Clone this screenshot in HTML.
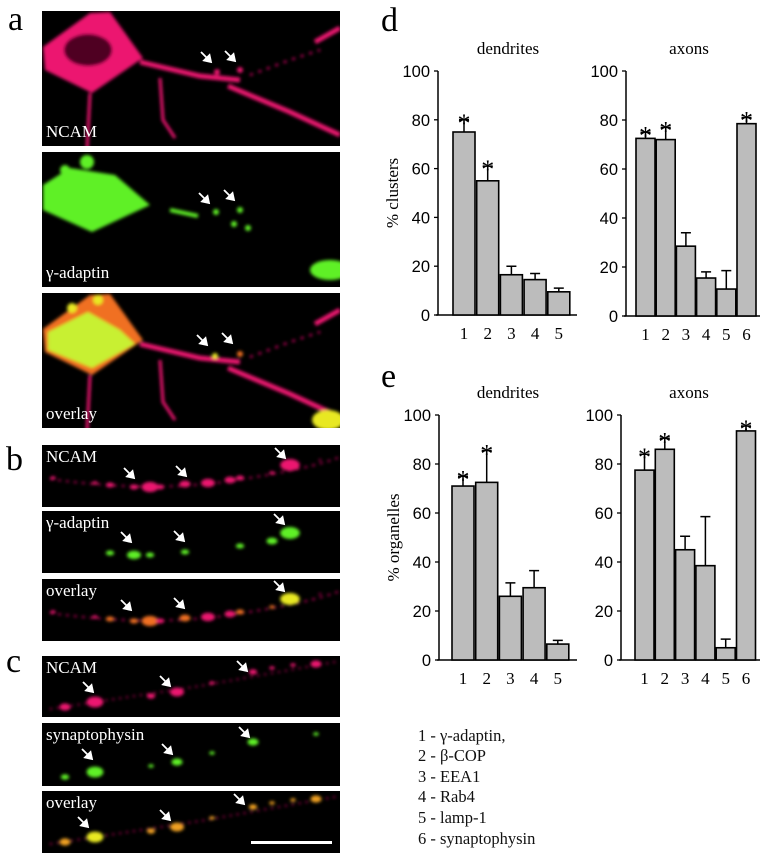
<!DOCTYPE html>
<html><head><meta charset="utf-8"><style>
html,body{margin:0;padding:0;background:#fff;}
svg{display:block;}
.serif{font-family:"Liberation Serif",serif;}
.sans{font-family:"Liberation Sans",sans-serif;}
</style></head><body>
<svg id="fig" width="772" height="853" viewBox="0 0 772 853" xmlns="http://www.w3.org/2000/svg">
<defs>
<filter id="bl" x="-20%" y="-20%" width="140%" height="140%"><feGaussianBlur stdDeviation="1.6"/></filter>
</defs>

<text x="8" y="30" class="serif" font-size="34">a</text>
<text x="6" y="470" class="serif" font-size="34">b</text>
<text x="6" y="672" class="serif" font-size="34">c</text>
<text x="381" y="31" class="serif" font-size="34">d</text>
<text x="381" y="387" class="serif" font-size="34">e</text>

<g id="micro"></g>

<g id="charts"></g>

<g class="serif" font-size="16.5" fill="#111">
<text x="418" y="741">1 - γ-adaptin,</text>
<text x="418" y="761">2 - β-COP</text>
<text x="418" y="782">3 - EEA1</text>
<text x="418" y="802">4 - Rab4</text>
<text x="418" y="823">5 - lamp-1</text>
<text x="418" y="844">6 - synaptophysin</text>
</g>
</svg>
<script>
// ---- chart data ----
var dDendCats = ["1","2","3","4","5"];
var dDendVals = [75, 55, 16.5, 14.5, 9.5];
var dDendErr  = [5, 6, 3.5, 2.5, 1.5];
var dDendSig  = [1, 1, 0, 0, 0];
var dAxCats = ["1","2","3","4","5","6"];
var dAxVals = [72.5, 72, 28.5, 15.5, 11, 78.5];
var dAxErr  = [2.5, 5, 5.5, 2.5, 7.5, 2.5];
var dAxSig  = [1, 1, 0, 0, 0, 1];
var eDendCats = ["1","2","3","4","5"];
var eDendVals = [71, 72.5, 26, 29.5, 6.5];
var eDendErr  = [4, 13, 5.5, 7, 1.5];
var eDendSig  = [1, 1, 0, 0, 0];
var eAxCats = ["1","2","3","4","5","6"];
var eAxVals = [77.5, 86, 45, 38.5, 5, 93.5];
var eAxErr  = [6.5, 4.5, 5.5, 20, 3.5, 2];
var eAxSig  = [1, 1, 0, 0, 0, 1];
var yTicks = [0, 20, 40, 60, 80, 100];

var NS = "http://www.w3.org/2000/svg";
function mk(tag, attrs, parent){
  var e = document.createElementNS(NS, tag);
  for (var k in attrs) e.setAttribute(k, attrs[k]);
  if (parent) parent.appendChild(e);
  return e;
}
var charts = document.getElementById("charts");

function drawChart(id, title, ylabel, cats, vals, errs, sig, L){
  var g = mk("g", {}, charts);
  
  
  function y(v){ return L.yBase - (L.yBase - L.yTop) * v / 100; }
  function x(i){ return L.x0 + i * L.step; }
  var t = mk("text", {x: L.titleX, y: y(100) - 17, "text-anchor": "middle", "class": "serif", "font-size": "17"}, g);
  t.textContent = title;
  
  
  if (ylabel){
    var yl = mk("text", {x: 0, y: 0, transform: "translate(" + (L.ax - 40) + "," + ((L.yTop + L.yBase) / 2) + ") rotate(-90)", "text-anchor": "middle", "class": "serif", "font-size": "17"}, g);
    yl.textContent = ylabel;
    
    
  }
  var axis = mk("path", {d: "M" + L.ax + "," + (y(100)) + "V" + L.yBase + "M" + (L.ax - 2) + "," + L.yBase + "H" + L.xEnd, stroke: "#000", "stroke-width": "1.5", fill: "none"}, g);
  
  
  yTicks.forEach(function(v){
    mk("line", {x1: L.ax - 4, x2: L.ax, y1: y(v), y2: y(v), stroke: "#000", "stroke-width": "1.3"}, g);
    var tl = mk("text", {x: L.ax - 8, y: y(v) + 6, "text-anchor": "end", "class": "sans", "font-size": "16.5"}, g);
    tl.textContent = String(v);
    
    
  });
  vals.forEach(function(v, i){
    var b = mk("rect", {x: x(i), y: y(v), width: L.w, height: L.yBase - y(v), fill: "#bcbcbc", stroke: "#000", "stroke-width": "1.6"}, g);
    
    
    var cx = x(i) + L.w / 2;
    var et = y(v + errs[i]);
    var eb = mk("path", {d: "M" + cx + "," + y(v) + "V" + et + "M" + (cx - 5) + "," + et + "H" + (cx + 5), stroke: "#000", "stroke-width": "1.5", fill: "none"}, g);
    
    
    if (sig[i]){
      var s = mk("text", {x: cx, y: et + 12, "text-anchor": "middle", "class": "serif", "font-size": "26"}, g);
      s.textContent = "*";
      
      
    }
    var xl = mk("text", {x: cx, y: L.yBase + 24, "text-anchor": "middle", "class": "serif", "font-size": "17"}, g);
    xl.textContent = cats[i];
    
    
  });
}
drawChart("chart-d-dendrites", "dendrites", "% clusters", dDendCats, dDendVals, dDendErr, dDendSig,
  {ax: 438, yTop: 71, yBase: 315, x0: 453, step: 23.7, w: 22, xEnd: 577, titleX: 508});
drawChart("chart-d-axons", "axons", null, dAxCats, dAxVals, dAxErr, dAxSig,
  {ax: 626, yTop: 71, yBase: 316, x0: 636, step: 20.2, w: 19, xEnd: 760, titleX: 689});
drawChart("chart-e-dendrites", "dendrites", "% organelles", eDendCats, eDendVals, eDendErr, eDendSig,
  {ax: 439, yTop: 415, yBase: 660, x0: 452, step: 23.7, w: 22, xEnd: 577, titleX: 508});
drawChart("chart-e-axons", "axons", null, eAxCats, eAxVals, eAxErr, eAxSig,
  {ax: 621, yTop: 415, yBase: 660, x0: 635, step: 20.3, w: 19, xEnd: 760, titleX: 689});

// ---- micrographs ----
var micro = document.getElementById("micro");
var RED = "#ec1470", GRN = "#5ef028", YEL = "#e8e820", ORG = "#f07020";
function panel(name, x, y, w, h, label){
  var g = mk("g", {}, micro);
  
  
  mk("rect", {x: x, y: y, width: w, height: h, fill: "#000"}, g);
  var cp = mk("clipPath", {id: "cp-" + name}, g);
  mk("rect", {x: x, y: y, width: w, height: h}, cp);
  var inner = mk("g", {"clip-path": "url(#cp-" + name + ")"}, g);
  var c = mk("g", {filter: "url(#bl)"}, inner);
  var lt = mk("text", {x: x + 4, y: label.y, fill: "#fff", "class": "serif", "font-size": "17"}, g);
  lt.textContent = label.t;
  
  
  return {g: g, c: c, top: inner};
}
function arrow(g, x, y){
  var a = mk("path", {d: "M" + (x - 10) + "," + (y - 10) + "L" + (x - 1) + "," + (y - 1) + "M" + x + "," + y + "l-7,-1.5 5.5,-5.5z", stroke: "#fff", "stroke-width": "1.8", fill: "#fff"}, g);
  
  
}
// panel a
var body = "M43,47 L90,13 L110,12 L143,58 L92,93 L45,70 Z";
function procs(c, col){
  mk("path", {d: "M140,62 L200,76 L240,80", stroke: col, "stroke-width": "5", fill: "none"}, c);
  mk("path", {d: "M228,86 L290,112 L340,135", stroke: col, "stroke-width": "5", fill: "none"}, c);
  mk("path", {d: "M315,42 L340,28", stroke: col, "stroke-width": "5", fill: "none"}, c);
  mk("path", {d: "M90,93 L87,150", stroke: col, "stroke-width": "3", fill: "none"}, c);
  mk("path", {d: "M160,78 L163,120 L175,138", stroke: col, "stroke-width": "3", fill: "none"}, c);
  mk("path", {d: "M250,75 L290,60 L320,50", stroke: col, "stroke-width": "2", fill: "none", "stroke-dasharray": "3 6"}, c);
}
var pa1 = panel("panel-a-ncam", 42, 11, 298, 135, {t: "NCAM", y: 137});
mk("path", {d: body, fill: RED}, pa1.c);
mk("ellipse", {cx: 88, cy: 50, rx: 24, ry: 16, fill: "#500020"}, pa1.c);
procs(pa1.c, RED);
mk("circle", {cx: 217, cy: 72, r: 3, fill: RED}, pa1.c);
mk("circle", {cx: 240, cy: 70, r: 3, fill: RED}, pa1.c);
arrow(pa1.g, 211, 62); arrow(pa1.g, 235, 61);

var pa2 = panel("panel-a-gamma-adaptin", 42, 152, 298, 135, {t: "γ-adaptin", y: 278});
mk("path", {d: "M43,185 L70,168 L115,175 L150,205 L92,232 L43,210 Z", fill: GRN}, pa2.c);
mk("circle", {cx: 87, cy: 162, r: 7, fill: GRN}, pa2.c);
mk("circle", {cx: 65, cy: 170, r: 5, fill: GRN}, pa2.c);
mk("path", {d: "M170,210 L198,216", stroke: GRN, "stroke-width": "4", fill: "none"}, pa2.c);
[[216,212],[240,210],[234,224],[248,228]].forEach(function(p){ mk("circle", {cx: p[0], cy: p[1], r: 3, fill: GRN}, pa2.c); });
mk("ellipse", {cx: 330, cy: 270, rx: 20, ry: 10, fill: GRN}, pa2.c);
arrow(pa2.g, 209, 203); arrow(pa2.g, 234, 200);

var pa3 = panel("panel-a-overlay", 42, 293, 298, 135, {t: "overlay", y: 419});
mk("path", {d: "M43,329 L90,295 L110,294 L143,340 L92,375 L45,352 Z", fill: ORG}, pa3.c);
mk("path", {d: "M48,332 L88,312 L120,330 L135,344 L92,368 L48,350 Z", fill: "#c8f030"}, pa3.c);
mk("circle", {cx: 72, cy: 308, r: 5, fill: YEL}, pa3.c);
mk("circle", {cx: 98, cy: 300, r: 5, fill: YEL}, pa3.c);
var g3 = mk("g", {transform: "translate(0,282)"}, pa3.c);
procs(g3, RED);
mk("circle", {cx: 215, cy: 356, r: 3, fill: YEL}, pa3.c);
mk("circle", {cx: 240, cy: 354, r: 3, fill: ORG}, pa3.c);
mk("ellipse", {cx: 328, cy: 420, rx: 16, ry: 10, fill: YEL}, pa3.c);
arrow(pa3.g, 207, 345); arrow(pa3.g, 232, 343);

// panel b: dots along a process (y relative to panel top)
var bDots = [[53,33],[95,38],[110,40],[134,42],[150,42],[160,42],[185,39],[208,38],[230,35],[240,33],[272,28],[290,20],[320,15]];
var bSizes = [2,2,3,3,6,3,4,5,4,3,2,7,1];
var bGreen = [0,0,3,5,3,0,3,0,0,3,4,7,0];
function bPanel(name, y0, label, mode){
  var p = panel(name, 42, y0, 298, 62, {t: label, y: y0 + 17});
  var gg = mk("g", {transform: "translate(0," + y0 + ")"}, p.c);
  if (mode !== "g") mk("path", {d: "M50,34 Q150,48 230,36 T340,12", stroke: RED, "stroke-width": "1.5", fill: "none", "stroke-dasharray": "3 5"}, gg);
  bDots.forEach(function(d, i){
    var r = mode === "g" ? bGreen[i] : bSizes[i];
    if (r <= 0) return;
    var col = mode === "r" ? RED : mode === "g" ? GRN : (bGreen[i] > 2 ? (bGreen[i] > 5 ? YEL : ORG) : RED);
    mk("ellipse", {cx: d[0], cy: d[1] + (mode === "g" ? 2 : 0), rx: r * 1.4, ry: r * 0.85, fill: col}, gg);
  });
  return p;
}
var pb1 = bPanel("panel-b-ncam", 445, "NCAM", "r");
arrow(pb1.g, 134, 478); arrow(pb1.g, 186, 476); arrow(pb1.g, 285, 458);
var pb2 = bPanel("panel-b-gamma-adaptin", 511, "γ-adaptin", "g");
arrow(pb2.g, 131, 542); arrow(pb2.g, 184, 541); arrow(pb2.g, 284, 524);
var pb3 = bPanel("panel-b-overlay", 579, "overlay", "o");
arrow(pb3.g, 131, 610); arrow(pb3.g, 184, 608); arrow(pb3.g, 284, 591);

// panel c
var cDots = [[65,51],[95,46],[151,40],[177,36],[212,27],[253,16],[272,12],[293,9],[316,8]];
var cR = [4,6,3,5,2,3,2,2,4];
var cG = [3,6,2,4,2,4,0,0,2];
function cPanel(name, y0, h, label, mode){
  var p = panel(name, 42, y0, 298, h, {t: label, y: y0 + 17});
  var gg = mk("g", {transform: "translate(0," + y0 + ")"}, p.c);
  if (mode !== "g") mk("path", {d: "M50,53 L200,30 L340,5", stroke: RED, "stroke-width": "1.5", fill: "none", "stroke-dasharray": "2 5"}, gg);
  cDots.forEach(function(d, i){
    var r = mode === "g" ? cG[i] : cR[i];
    if (r <= 0) return;
    var col = mode === "r" ? RED : mode === "g" ? GRN : (cG[i] >= 5 ? YEL : "#f0a020");
    mk("ellipse", {cx: d[0], cy: d[1] + (mode === "g" ? 3 : 0), rx: r * 1.4, ry: r * 0.9, fill: col}, gg);
  });
  return p;
}
var pc1 = cPanel("panel-c-ncam", 656, 61, "NCAM", "r");
arrow(pc1.g, 93, 692); arrow(pc1.g, 170, 686); arrow(pc1.g, 247, 671);
var pc2 = cPanel("panel-c-synaptophysin", 723, 63, "synaptophysin", "g");
arrow(pc2.g, 92, 759); arrow(pc2.g, 172, 754); arrow(pc2.g, 249, 737);
var pc3 = cPanel("panel-c-overlay", 791, 62, "overlay", "o");
arrow(pc3.g, 88, 827); arrow(pc3.g, 170, 820); arrow(pc3.g, 244, 804);
var sb = mk("rect", {x: 251, y: 841, width: 81, height: 3, fill: "#fff"}, micro);


</script>
</body></html>
